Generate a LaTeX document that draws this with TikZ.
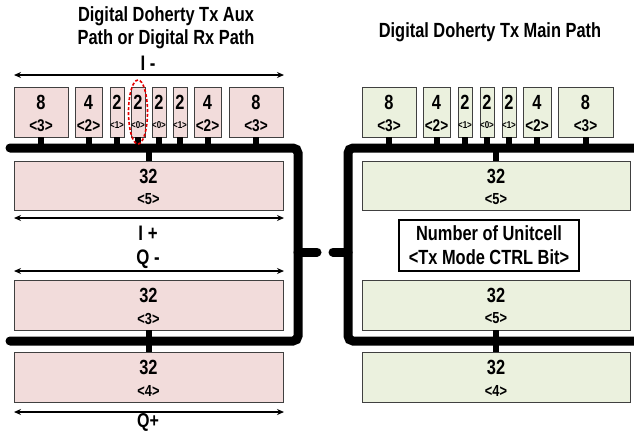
\documentclass[tikz,border=0pt]{standalone}
\usepackage{fontspec}
\setmainfont{Liberation Sans}[FakeStretch=0.8]
\usetikzlibrary{arrows.meta,shapes.geometric}
\definecolor{pinkfill}{HTML}{F2DCDB}
\definecolor{greenfill}{HTML}{EBF1DE}
\definecolor{edgegray}{HTML}{404040}
\newcommand\ucell[9]{%
  \node[#2, minimum width={#4-#3}, minimum height={#6-#5}] (#1) at ({(#3+#4)/2},{(#5+#6)/2}) {};
  \node[numtxt] (#1n) at ({(#3+#4)/2},{#5+15.5}) {#7};
  \node[subtxt, font=\bfseries\fontsize{#9}{#9}\selectfont] (#1s) at ({(#3+#4)/2},{#5+38.5}) {#8};
}
\begin{document}
\begin{tikzpicture}[x=1pt,y=-1pt,
  cellL/.style={draw=edgegray, line width=0.8pt, fill=pinkfill, inner sep=0pt},
  cellR/.style={draw=edgegray, line width=0.8pt, fill=greenfill, inner sep=0pt},
  numtxt/.style={font=\bfseries\fontsize{20.5}{20.5}\selectfont, inner sep=0pt},
  subtxt/.style={inner sep=0pt},
  bus/.style={line width=9pt, rounded corners=5pt, line cap=round},
  stub/.style={line width=6pt},
  dim/.style={line width=1.6pt, {Stealth[length=7pt,width=6pt]}-{Stealth[length=7pt,width=6pt]}},
  title/.style={font=\bfseries\fontsize{20.5}{23}\selectfont, align=center, inner sep=0pt},
  lbl/.style={font=\bfseries\fontsize{21}{21}\selectfont, inner sep=0pt}
]
\useasboundingbox (0,0) rectangle (634,432);

% titles
\node[title] (tL) at (166,28) {Digital Doherty Tx Aux\\Path or Digital Rx Path};
\node[title] (tR) at (490,32) {Digital Doherty Tx Main Path};

% buses
\coordinate (bLa) at (10,148);
\coordinate (bLb) at (298,148);
\coordinate (bLc) at (298,341);
\coordinate (bLd) at (10,341);
\draw[bus] (bLa) -- (bLb) -- (bLc) -- (bLd);
\coordinate (bRa) at (650,148);
\coordinate (bRb) at (348,148);
\coordinate (bRc) at (348,341);
\coordinate (bRd) at (650,341);
\draw[bus] (bRa) -- (bRb) -- (bRc) -- (bRd);
\coordinate (sL1) at (298,252);
\coordinate (sL2) at (317,252);
\coordinate (sR1) at (348,252);
\coordinate (sR2) at (333,252);
\draw[line width=9pt, line cap=round] (sL1) -- (sL2);
\draw[line width=9pt, line cap=round] (sR1) -- (sR2);

% left small cells
\ucell{l1}{cellL}{14}{68}{87}{137}{8}{<3>}{17}
\ucell{l2}{cellL}{75}{102}{87}{137}{4}{<2>}{17}
\ucell{l3}{cellL}{110}{124}{87}{137}{2}{<1>}{10}
\ucell{l4}{cellL}{131}{145}{87}{137}{2}{<0>}{10}
\ucell{l5}{cellL}{152}{166}{87}{137}{2}{<0>}{10}
\ucell{l6}{cellL}{173}{187}{87}{137}{2}{<1>}{10}
\ucell{l7}{cellL}{194}{221}{87}{137}{4}{<2>}{17}
\ucell{l8}{cellL}{229}{283}{87}{137}{8}{<3>}{17}
\foreach \c in {l1,l2,l3,l4,l5,l6,l7,l8}{
  \draw[stub] (\c.south) -- (\c.south |- bLa);
}
% right small cells
\ucell{r1}{cellR}{362}{416}{87}{137}{8}{<3>}{17}
\ucell{r2}{cellR}{423}{450}{87}{137}{4}{<2>}{17}
\ucell{r3}{cellR}{458}{472}{87}{137}{2}{<1>}{10}
\ucell{r4}{cellR}{480}{494}{87}{137}{2}{<0>}{10}
\ucell{r5}{cellR}{502}{516}{87}{137}{2}{<1>}{10}
\ucell{r6}{cellR}{523}{551}{87}{137}{4}{<2>}{17}
\ucell{r7}{cellR}{558}{613}{87}{137}{8}{<3>}{17}
\foreach \c in {r1,r2,r3,r4,r5,r6,r7}{
  \draw[stub] (\c.south) -- (\c.south |- bRa);
}

% big cells left
\ucell{L5}{cellL}{14}{283}{161}{210}{32}{<5>}{16}
\ucell{L3}{cellL}{14}{283}{280}{330}{32}{<3>}{16}
\ucell{L4}{cellL}{14}{283}{352}{402}{32}{<4>}{16}
\draw[stub] (L5.north) -- (L5.north |- bLa);
\draw[stub] (L3.south) -- (L4.north);
% big cells right
\ucell{R5}{cellR}{362}{630}{161}{210}{32}{<5>}{16}
\ucell{R5b}{cellR}{362}{630}{280}{330}{32}{<5>}{16}
\ucell{R4}{cellR}{362}{630}{352}{402}{32}{<4>}{16}
\draw[stub] (R5.north) -- (R5.north |- bRa);
\draw[stub] (R5b.south) -- (R4.north);

% selection ellipse
\node[ellipse, draw=red!90!black, dashed, dash pattern=on 3pt off 2pt, line width=1.6pt,
      minimum width=19pt, minimum height=64pt, inner sep=0pt] (sel) at (138,112) {};

% dimension arrows and labels
\coordinate (aIm1) at (14,75);  \coordinate (aIm2) at (284,75);
\coordinate (aIp1) at (14,218); \coordinate (aIp2) at (284,218);
\coordinate (aQm1) at (14,271); \coordinate (aQm2) at (284,271);
\coordinate (aQp1) at (14,412); \coordinate (aQp2) at (284,412);
\draw[dim] (aIm1) -- (aIm2);
\draw[dim] (aIp1) -- (aIp2);
\draw[dim] (aQm1) -- (aQm2);
\draw[dim] (aQp1) -- (aQp2);
\node[lbl] (lIm) at (148,63) {I -};
\node[lbl] (lIp) at (148,233) {I +};
\node[lbl] (lQm) at (148,259) {Q -};
\node[lbl, font=\bfseries\fontsize{20}{20}\selectfont] (lQp) at (148,422) {Q+};

% legend box
\node[draw, line width=2.5pt, fill=white, minimum width=180pt, minimum height=51pt,
      align=center, inner sep=0pt, font=\bfseries\fontsize{20.5}{24}\selectfont] (leg) at (489,245.5)
      {Number of Unitcell\\<Tx Mode CTRL Bit>};
\end{tikzpicture}
\end{document}
